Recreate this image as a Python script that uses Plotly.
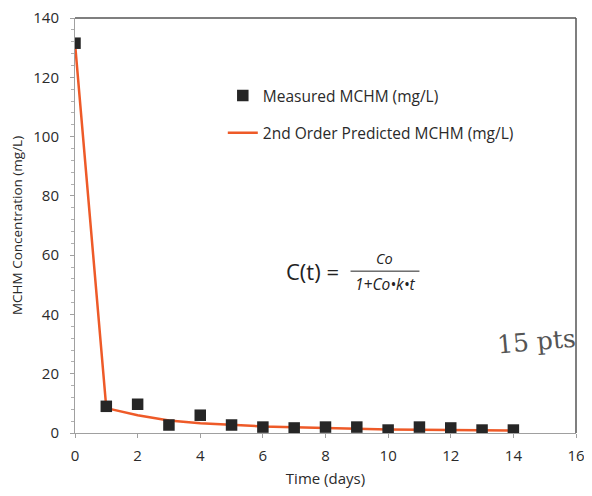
import plotly.graph_objects as go

days = [0, 1, 2, 3, 4, 5, 6, 7, 8, 9, 10, 11, 12, 13, 14]
measured = [131.5, 9.0, 9.7, 2.7, 6.0, 2.7, 2.0, 1.7, 2.0, 2.0, 1.0, 2.0, 1.7, 1.0, 1.0]
predicted = [131.5, 8.4, 6.0, 4.2, 3.3, 2.7, 2.2, 1.9, 1.6, 1.4, 1.2, 1.1, 1.0, 0.9, 0.8]

x_ticks = [0, 2, 4, 6, 8, 10, 12, 14, 16]
y_ticks = [0, 20, 40, 60, 80, 100, 120, 140]

FONT = "Open Sans, Lato, sans-serif"
TXT = "#2a2a2a"

fig = go.Figure()
fig.add_trace(go.Scatter(
    x=days, y=predicted, mode="lines", name="2nd Order Predicted MCHM (mg/L)",
    line=dict(color="#EE5A28", width=2.5),
    legendgroup="b", legendrank=2,
))
fig.add_trace(go.Scatter(
    x=days, y=measured, mode="markers", name="Measured MCHM (mg/L)",
    marker=dict(symbol="square", size=11.5, color="#262626"),
    legendgroup="a", legendrank=1,
))

fig.update_layout(
    width=576, height=480,
    margin=dict(l=67, r=8, t=10, b=55, autoexpand=False),
    paper_bgcolor="white", plot_bgcolor="white",
    font=dict(family=FONT, size=13, color=TXT),
    showlegend=True,
    legend=dict(
        x=0.295, y=0.853, xanchor="left", yanchor="top",
        bgcolor="rgba(0,0,0,0)", traceorder="grouped",
        tracegroupgap=14, font=dict(size=15.5, color=TXT),
        itemwidth=30,
    ),
    xaxis=dict(
        range=[0, 16], tickvals=x_ticks, ticktext=[str(v) for v in x_ticks],
        showgrid=False, zeroline=False, showline=True, linecolor="#A0A0A0", linewidth=1,
        ticks="outside", ticklen=4, tickcolor="#A0A0A0", automargin=False,
        ticklabelstandoff=5, ticklabeloverflow="allow",
        title=dict(text="Time (days)", font=dict(size=15, color=TXT), standoff=9),
        tickfont=dict(size=15, color=TXT),
    ),
    yaxis=dict(
        range=[0, 140], tickvals=y_ticks, ticktext=[str(v) for v in y_ticks],
        showgrid=False, zeroline=False, showline=True, linecolor="#A0A0A0", linewidth=1,
        ticks="outside", ticklen=4, tickcolor="#A0A0A0", automargin=False,
        ticklabelstandoff=8, ticklabeloverflow="allow",
        minor=dict(dtick=4, ticks="outside", ticklen=3, tickcolor="#B0B0B0"),
        title=dict(text="MCHM Concentration (mg/L)", font=dict(size=13.5, color=TXT), standoff=11),
        tickfont=dict(size=15, color=TXT),
    ),
)

# top and right borders of the plot area
fig.add_shape(type="line", xref="paper", yref="paper", x0=0, x1=1, y0=1, y1=1,
              line=dict(color="#555555", width=1.5))
fig.add_shape(type="line", xref="paper", yref="paper", x0=1, x1=1, y0=0, y1=1,
              line=dict(color="#555555", width=1.5))

# formula
fig.add_annotation(x=8.5, y=54.6, xref="x", yref="y", text="C(t) =", showarrow=False,
                   xanchor="right", font=dict(size=22, color="#222222", family=FONT))
fig.add_annotation(x=9.9, y=58.8, xref="x", yref="y", text="<i>Co</i>", showarrow=False,
                   font=dict(size=14.5, color="#222222", family=FONT))
fig.add_annotation(x=9.9, y=50.2, xref="x", yref="y", text="<i>1+Co•k•t</i>", showarrow=False,
                   font=dict(size=15.5, color="#222222", family=FONT))
fig.add_shape(type="line", xref="x", yref="y", x0=8.8, x1=11.0, y0=54.6, y1=54.6,
              line=dict(color="#222222", width=1))

# handwritten note
fig.add_annotation(x=14.75, y=31, xref="x", yref="y", text="15 pts", showarrow=False,
                   font=dict(size=25, color="#555555", family="DejaVu Serif"), textangle=-5)

fig.write_html("out.html")
